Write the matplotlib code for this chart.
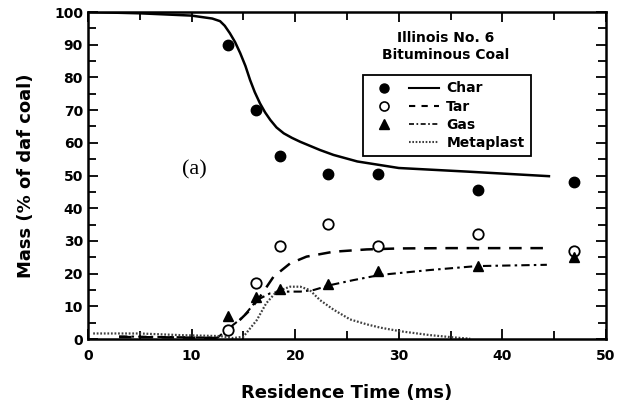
import numpy as np
import matplotlib.pyplot as plt
from matplotlib.lines import Line2D
from matplotlib.legend_handler import HandlerTuple
from matplotlib.ticker import MultipleLocator

plt.rcParams['font.family'] = ['DejaVu Sans']
plt.rcParams['font.weight'] = 'bold'

# experimental points
t_exp = [13.5, 16.2, 18.5, 23.2, 28.0, 37.7, 46.9]
char_exp = [90, 70, 56, 50.5, 50.5, 45.5, 48]
tar_exp = [2.8, 17, 28.5, 35.2, 28.5, 32, 27]
gas_exp = [7, 12.9, 15.2, 16.8, 20.9, 22.4, 25.2]

# model curves
char_t = [0, 5, 10, 12, 12.75, 13.2, 13.7, 14.2, 14.7, 15.2, 15.65, 16.1, 16.6, 17.1, 17.6,
          18.2, 18.9, 19.7, 20.5, 22.4, 23.7, 26, 30, 36.6, 44.5]
char_y = [100, 99.6, 98.9, 98.0, 97.2, 95.8, 93.5, 90.8, 87.4, 83.5, 79.2, 75.5, 72.1, 69.3, 67,
          64.7, 62.9, 61.5, 60.3, 57.8, 56.3, 54.3, 52.3, 51.2, 49.8]

tar_t = [3, 8, 12.75, 14, 15.65, 16.6, 17.9, 19.5, 21.1, 23.7, 26.9, 30, 35, 44.2]
tar_y = [0.6, 0.5, 0.3, 3.8, 8.9, 12.9, 19, 23.1, 25.2, 26.7, 27.4, 27.7, 27.8, 27.8]

gas_t = [3, 8, 12.5, 13.4, 15, 16.3, 17.6, 18.55, 20.5, 21.8, 23.4, 25.6, 28.2, 33, 37.5, 44.3]
gas_y = [0.8, 0.6, 0.4, 2.8, 6.8, 11.9, 14, 14.5, 14.5, 15, 16.5, 18, 19.6, 21.1, 22.3, 22.7]

meta_t = [0.5, 5, 8.9, 12.75, 14, 15, 16.3, 17.2, 18.2, 19.5, 20.5, 21.4, 22.4, 23.7, 25.3, 26.9, 28.2, 30.1, 33, 35.3, 36.9]
meta_y = [1.7, 1.7, 1.2, 0.9, 0.3, 0.7, 5.8, 10.9, 14.5, 16, 16, 15, 11.9, 9.0, 6.0, 4.5, 3.5, 2.4, 1.2, 0.5, 0.1]

fig = plt.figure(figsize=(6.24, 4.07), dpi=100)
ax = fig.add_axes([0.141, 0.167, 0.830, 0.8035])

ax.plot(char_t, char_y, color='black', lw=1.8)
ax.plot(tar_t, tar_y, color='black', lw=1.8, dashes=(5, 3.5))
ax.plot(gas_t, gas_y, color='black', lw=1.5, dashes=(4, 2, 1.2, 2))
ax.plot(meta_t, meta_y, color='0.25', lw=1.6, dashes=(0.8, 0.8))

ms = 7.5
ax.plot(t_exp, char_exp, 'o', color='black', ms=ms)
ax.plot(t_exp, tar_exp, 'o', mfc='white', mec='black', mew=1.3, ms=ms)
ax.plot(t_exp, gas_exp, '^', color='black', ms=ms)

ax.set_xlim(0, 50)
ax.set_ylim(0, 100)
ax.xaxis.set_major_locator(MultipleLocator(10))
ax.xaxis.set_minor_locator(MultipleLocator(5))
ax.yaxis.set_major_locator(MultipleLocator(10))
ax.yaxis.set_minor_locator(MultipleLocator(5))
ax.tick_params(which='both', direction='in', top=True, right=True, width=1.3)
ax.tick_params(which='major', length=7)
ax.tick_params(which='minor', length=6)
ax.tick_params(axis='x', labelsize=10, pad=7)
ax.tick_params(axis='y', labelsize=10, pad=3.6)
for s in ax.spines.values():
    s.set_linewidth(1.8)

ax.set_xlabel('Residence Time (ms)', fontsize=13, fontweight='bold', labelpad=15)
ax.set_ylabel('Mass (% of daf coal)', fontsize=13, fontweight='bold', labelpad=14)

ax.text(0.69, 0.895, 'Illinois No. 6\nBituminous Coal', transform=ax.transAxes,
        ha='center', va='center', fontsize=10, fontweight='bold', linespacing=1.25)
ax.text(10.3, 51.7, '(a)', family='Liberation Serif', fontweight='normal',
        fontsize=16, ha='center', va='center')

empty = Line2D([], [], linestyle='none')
h_char = (Line2D([], [], ls='none', marker='o', color='black', ms=6.5),
          Line2D([], [], color='black', lw=1.5))
h_tar = (Line2D([], [], ls='none', marker='o', mfc='white', mec='black', mew=1.2, ms=6.5),
         Line2D([], [], color='black', lw=1.5, dashes=(3, 3)))
h_gas = (Line2D([], [], ls='none', marker='^', color='black', ms=6.5),
         Line2D([], [], color='black', lw=1.2, dashes=(3, 1.5, 1, 1.5)))
h_meta = (empty, Line2D([], [], color='0.25', lw=1.5, dashes=(0.8, 0.8)))

leg = ax.legend([h_char, h_tar, h_gas, h_meta], ['Char', 'Tar', 'Gas', 'Metaplast'],
                handler_map={tuple: HandlerTuple(ndivide=None, pad=0.7)},
                loc='upper right', bbox_to_anchor=(0.855, 0.807),
                fontsize=10, handlelength=5.0, handletextpad=0.55,
                labelspacing=0.3, borderpad=0.45, borderaxespad=0,
                fancybox=False, framealpha=1, edgecolor='black')
leg.get_frame().set_linewidth(1.3)

fig.savefig('out.png', dpi=100)
